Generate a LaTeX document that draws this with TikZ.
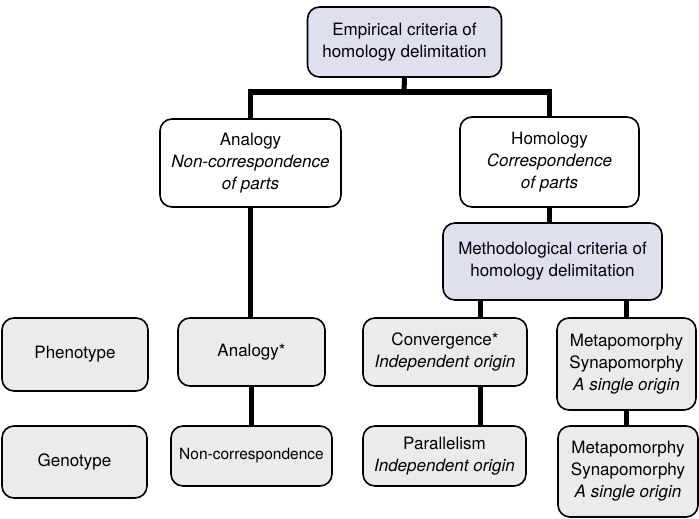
\documentclass[tikz,border=0pt]{standalone}
\usepackage{fontspec}
\setmainfont{TeX Gyre Heros}
\definecolor{critblue}{RGB}{222,224,240}
\definecolor{boxgray}{RGB}{235,235,235}
\begin{document}
\begin{tikzpicture}[x=1pt, y=-1pt,
    box/.style={draw, line width=1.6pt, rounded corners=12pt, align=center,
        inner sep=0pt, font=\fontsize{17}{22}\selectfont},
    crit/.style={box, fill=critblue},
    cat/.style={box, fill=boxgray},
    link/.style={line width=5pt}]
    \useasboundingbox (0,0) rectangle (699,519);
    \def\xc{480}
    \def\yb{92}

    % Top criteria box
    \node[crit, minimum width=194pt, minimum height=70pt] (emp) at (404.5, 42)
        {Empirical criteria of\\homology delimitation};

    % Analogy / homology
    \node[box, minimum width=181pt, minimum height=88pt] (analogy) at (250.5, 163)
        {Analogy\\\textit{Non-correspondence}\\\textit{of parts}};
    \node[box, minimum width=179pt, minimum height=90pt] (homology) at (549.5, 162)
        {Homology\\\textit{Correspondence}\\\textit{of parts}};

    % Methodological criteria
    \node[crit, minimum width=219pt, minimum height=77pt] (method) at (552.5, 261.5)
        {Methodological criteria of\\homology delimitation};

    % Left column labels
    \node[cat, minimum width=146pt, minimum height=73pt] (pheno) at (75, 354.5) {Phenotype};
    \node[cat, minimum width=145pt, minimum height=72pt] (geno) at (74.5, 462) {Genotype};

    % Analogy branch
    \node[cat, minimum width=147pt, minimum height=68pt] (analog) at (251.5, 352) {Analogy*};
    \node[cat, minimum width=161pt, minimum height=60pt, font=\fontsize{15.5}{22}\selectfont]
        (noncorr) at (251.5, 456) {Non-correspondence};

    % Homology branch
    \node[cat, minimum width=164pt, minimum height=68pt] (conv) at (445, 352)
        {Convergence*\\\textit{Independent origin}};
    \node[cat, minimum width=163pt, minimum height=60pt] (paral) at (444.5, 456)
        {Parallelism\\\textit{Independent origin}};
    \node[cat, minimum width=139pt, minimum height=92pt] (meta) at (626.5, 364)
        {Metapomorphy\\Synapomorphy\\\textit{A single origin}};
    \node[cat, minimum width=140pt, minimum height=91pt] (metab) at (628, 471.5)
        {Metapomorphy\\Synapomorphy\\\textit{A single origin}};

    % Connectors
    \coordinate (bar) at (404, \yb);
    \coordinate (cj) at (\xc, 300);
    \draw[link] (emp.south) -- (bar);
    \draw[link] (analogy.north) -- (analogy.north |- bar) -- (homology.north |- bar) -- (homology.north);
    \draw[link] (homology.south) -- (homology.south |- method.north);
    \draw[link] (analogy.south) -- (analogy.south |- analog.north);
    \draw[link] (analog.south) -- (analog.south |- noncorr.north);
    \draw[link] (method.south -| cj) -- (conv.north -| cj);
    \draw[link] (conv.south -| cj) -- (paral.north -| cj);
    \draw[link] (method.south -| meta.north) -- (meta.north);
    \draw[link] (meta.south) -- (meta.south |- metab.north);
\end{tikzpicture}
\end{document}
